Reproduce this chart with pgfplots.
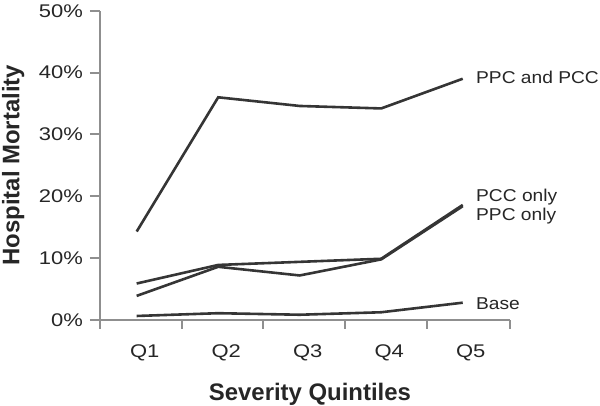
\documentclass[border=0pt]{standalone}
\usepackage{fontspec}
\setmainfont{Liberation Sans}
\newfontfamily\widefont[FakeStretch=1.2]{Liberation Sans}
\newfontfamily\labelfont[FakeStretch=1.12]{Liberation Sans}
\usepackage{pgfplots}
\pgfplotsset{compat=1.18}
\definecolor{linegray}{HTML}{353535}
\definecolor{axisgray}{HTML}{8F8F8F}
\definecolor{textgray}{HTML}{262626}

\begin{document}
\begin{tikzpicture}
\path[use as bounding box] (0,0) rectangle (300bp,203bp);
\begin{axis}[
  at={(50bp,43bp)}, anchor=south west,
  scale only axis, width=205bp, height=154.65bp,
  xmin=-0.45, xmax=4.58, ymin=0, ymax=50,
  axis x line*=bottom, axis y line*=left,
  axis line style={axisgray, line width=1bp},
  every tick/.style={axisgray, line width=1bp},
  tick align=outside,
  xtick={0,1,2,3,4}, xticklabels={Q1,Q2,Q3,Q4,Q5},
  major x tick style={draw=none},
  minor xtick={-0.45,0.555,1.555,2.555,3.56,4.58},
  minor tick length=4.5bp, major tick length=5bp,
  ytick={0,10,...,50},
  yticklabel={\pgfmathprintnumber{\tick}\%},
  /pgf/number format/assume math mode=true,
  ticklabel style={font=\widefont\fontsize{9.2}{11}\selectfont, text=textgray},
  xticklabel style={xshift=4bp, yshift=-4bp},
  xlabel={Severity Quintiles},
  xlabel style={at={(axis description cs:0.512,-0.24)}, anchor=center,
    font=\fontsize{12}{14}\selectfont\bfseries, text=textgray},
  ylabel={Hospital Mortality},
  ylabel style={at={(axis description cs:-0.212,0.5)}, anchor=center,
    font=\fontsize{12}{14}\selectfont\bfseries, text=textgray},
  clip=false,
]
  % PPC and PCC
  \addplot[linegray, line width=1.3bp, mark=none] coordinates {(0,14.3) (1,36.0) (2,34.6) (3,34.2) (4,39.0)};
  % PCC only
  \addplot[linegray, line width=1.3bp, mark=none] coordinates {(0,5.9) (1,8.9) (2,9.4) (3,9.9) (4,18.6)};
  % PPC only
  \addplot[linegray, line width=1.3bp, mark=none] coordinates {(0,3.9) (1,8.6) (2,7.2) (3,9.8) (4,18.4)};
  % Base
  \addplot[linegray, line width=1.3bp, mark=none] coordinates {(0,0.65) (1,1.1) (2,0.85) (3,1.25) (4,2.8)};

  \begin{scope}[every node/.style={anchor=west, inner sep=0pt,
      font=\labelfont\fontsize{8.6}{10}\selectfont, text=textgray}]
    \node at (axis cs:4.16,39.3) {PPC and PCC};
    \node at (axis cs:4.16,19.9) {PCC only};
    \node at (axis cs:4.16,16.8) {PPC only};
    \node at (axis cs:4.16,2.7) {Base};
  \end{scope}
\end{axis}
\end{tikzpicture}
\end{document}
